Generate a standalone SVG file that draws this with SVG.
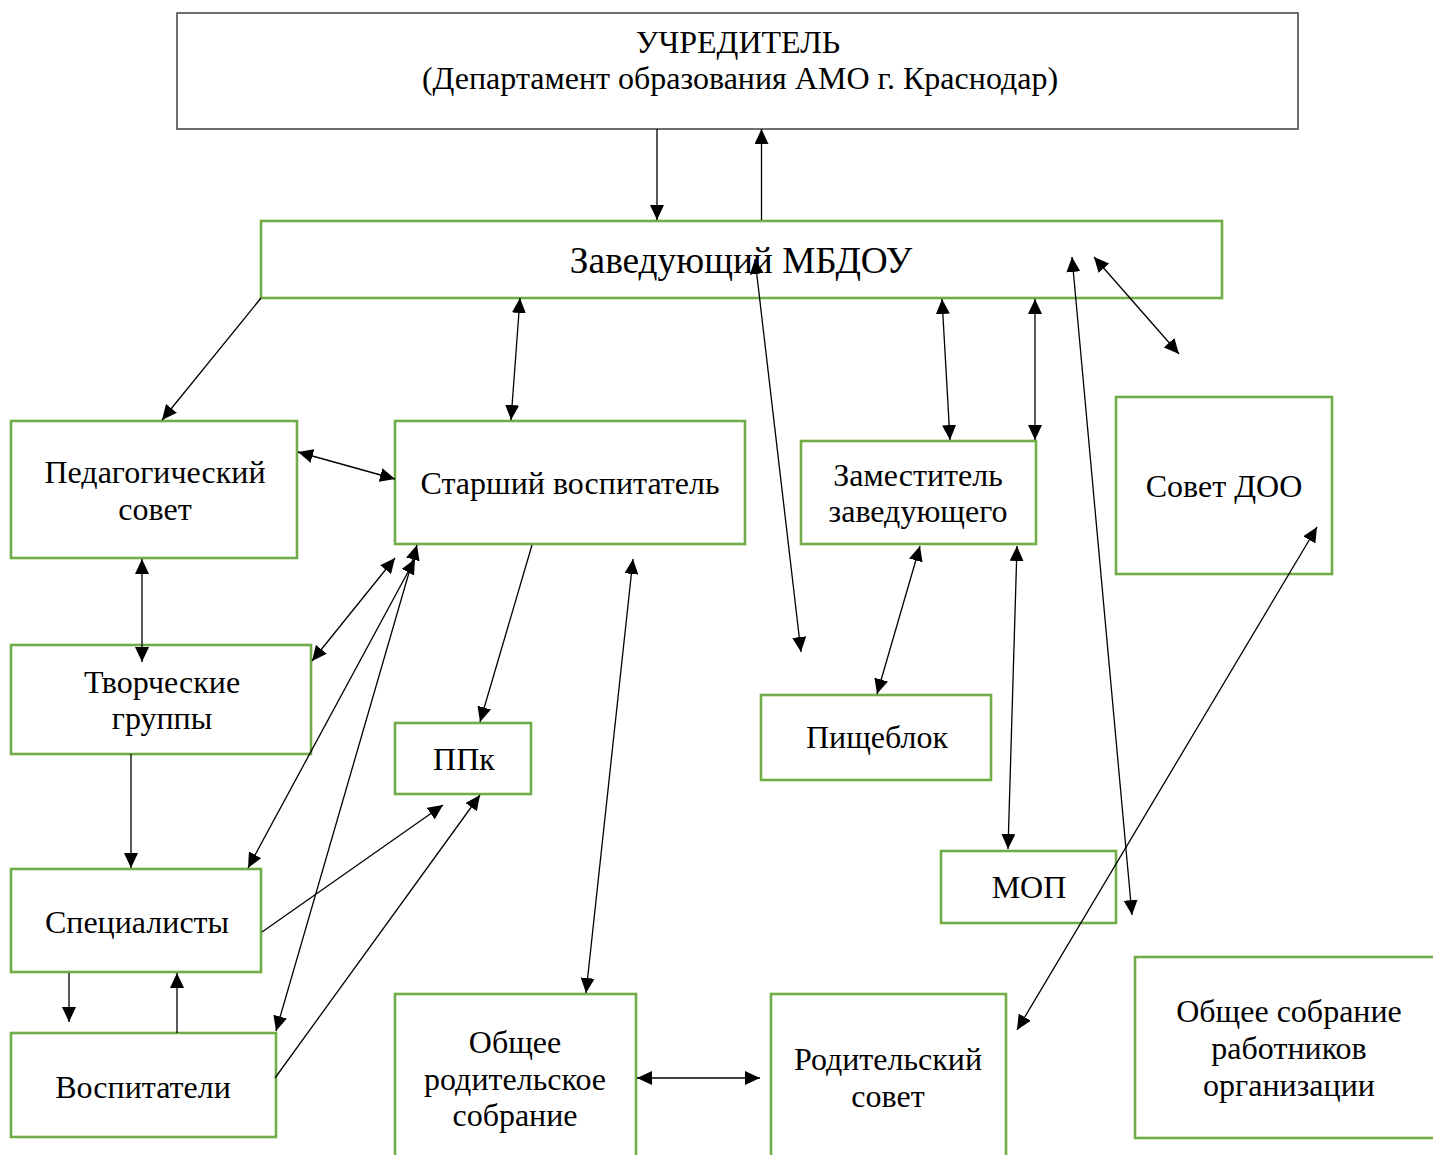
<svg xmlns="http://www.w3.org/2000/svg" width="1433" height="1155" viewBox="0 0 1433 1155">
<style>
  .box { fill: #ffffff; stroke: #70AD47; stroke-width: 2.6; }
  .top { fill: #ffffff; stroke: #404040; stroke-width: 1.5; }
  .t { font-family: "Liberation Serif", "Times New Roman", serif; font-size: 32px; fill: #000000; text-anchor: middle; }
  .big { font-size: 37.33px; }
  .c line { stroke: #000000; stroke-width: 1.3; fill: none; }
  .one { marker-end: url(#ah); }
  .two { marker-start: url(#ah); marker-end: url(#ah); }
</style>
<defs>
  <marker id="ah" markerUnits="userSpaceOnUse" markerWidth="15" markerHeight="14" refX="15" refY="7" orient="auto-start-reverse" viewBox="0 0 15 14">
    <path d="M0,0 L15,7 L0,14 Z" fill="#000000"/>
  </marker>
</defs>
<rect width="1433" height="1155" fill="#ffffff"/>

<g id="uchreditel">
  <rect class="top" x="177" y="13" width="1121" height="116"/>
  <text class="t" x="738" y="53">УЧРЕДИТЕЛЬ</text>
  <text class="t" x="740" y="89">(Департамент образования АМО г. Краснодар)</text>
</g>
<g id="zaveduyushchiy">
  <rect class="box" x="261" y="221" width="961" height="77"/>
  <text class="t big" x="741" y="273">Заведующий МБДОУ</text>
</g>
<g id="pedsovet">
  <rect class="box" x="11" y="421" width="286" height="137"/>
  <text class="t" x="155" y="483">Педагогический</text>
  <text class="t" x="155" y="520">совет</text>
</g>
<g id="starshiy">
  <rect class="box" x="395" y="421" width="350" height="123"/>
  <text class="t" x="570" y="494">Старший воспитатель</text>
</g>
<g id="zamestitel">
  <rect class="box" x="801" y="441" width="235" height="103"/>
  <text class="t" x="918" y="486">Заместитель</text>
  <text class="t" x="918" y="522">заведующего</text>
</g>
<g id="sovet-doo">
  <rect class="box" x="1116" y="397" width="216" height="177"/>
  <text class="t" x="1224" y="497">Совет ДОО</text>
</g>
<g id="tvorcheskie">
  <rect class="box" x="11" y="645" width="300" height="109"/>
  <text class="t" x="162" y="693">Творческие</text>
  <text class="t" x="162" y="729">группы</text>
</g>
<g id="ppk">
  <rect class="box" x="395" y="723" width="136" height="71"/>
  <text class="t" x="464" y="770">ППк</text>
</g>
<g id="pishcheblok">
  <rect class="box" x="761" y="695" width="230" height="85"/>
  <text class="t" x="877" y="748">Пищеблок</text>
</g>
<g id="mop">
  <rect class="box" x="941" y="851" width="175" height="72"/>
  <text class="t" x="1029" y="898">МОП</text>
</g>
<g id="specialisty">
  <rect class="box" x="11" y="869" width="250" height="103"/>
  <text class="t" x="137" y="933">Специалисты</text>
</g>
<g id="vospitateli">
  <rect class="box" x="11" y="1033" width="265" height="104"/>
  <text class="t" x="143" y="1098">Воспитатели</text>
</g>
<g id="obshchee-roditelskoe">
  <rect class="box" x="395" y="994" width="241" height="175"/>
  <text class="t" x="515" y="1053">Общее</text>
  <text class="t" x="515" y="1090">родительское</text>
  <text class="t" x="515" y="1126">собрание</text>
</g>
<g id="roditelskiy-sovet">
  <rect class="box" x="771" y="994" width="235" height="175"/>
  <text class="t" x="888" y="1070">Родительский</text>
  <text class="t" x="888" y="1107">совет</text>
</g>
<g id="obshchee-sobranie-rabotnikov">
  <rect class="box" x="1135" y="957" width="330" height="181"/>
  <text class="t" x="1289" y="1022">Общее собрание</text>
  <text class="t" x="1289" y="1059">работников</text>
  <text class="t" x="1289" y="1096">организации</text>
</g>

<g id="connectors" class="c">
  <line class="one" x1="657" y1="129" x2="657" y2="220"/>
  <line class="one" x1="761.5" y1="220" x2="761.5" y2="129"/>
  <line class="one" x1="261" y1="298" x2="162" y2="420"/>
  <line class="two" x1="520" y1="298" x2="511" y2="420"/>
  <line class="two" x1="755" y1="259" x2="801" y2="652"/>
  <line class="two" x1="942" y1="299" x2="950" y2="440"/>
  <line class="two" x1="1035" y1="299" x2="1035" y2="440"/>
  <line class="two" x1="1072" y1="257" x2="1132" y2="915"/>
  <line class="two" x1="1094" y1="257" x2="1179" y2="354"/>
  <line class="two" x1="298" y1="452" x2="395" y2="479"/>
  <line class="two" x1="142" y1="559" x2="142" y2="662"/>
  <line class="two" x1="312" y1="661" x2="395" y2="558"/>
  <line class="one" x1="131" y1="754" x2="131" y2="868"/>
  <line class="two" x1="248" y1="868" x2="415" y2="559"/>
  <line class="two" x1="276" y1="1031" x2="417" y2="545"/>
  <line class="one" x1="262" y1="932" x2="443" y2="805"/>
  <line class="one" x1="275" y1="1078" x2="480" y2="795"/>
  <line class="one" x1="69" y1="973" x2="69" y2="1022"/>
  <line class="one" x1="177" y1="1033" x2="177" y2="973"/>
  <line class="one" x1="532" y1="545" x2="480" y2="722"/>
  <line class="two" x1="633" y1="559" x2="586" y2="993"/>
  <line class="two" x1="637" y1="1078" x2="760" y2="1078"/>
  <line class="two" x1="920" y1="546" x2="877" y2="694"/>
  <line class="two" x1="1017" y1="546" x2="1008" y2="849"/>
  <line class="two" x1="1317" y1="527" x2="1017" y2="1030"/>
</g>
</svg>
